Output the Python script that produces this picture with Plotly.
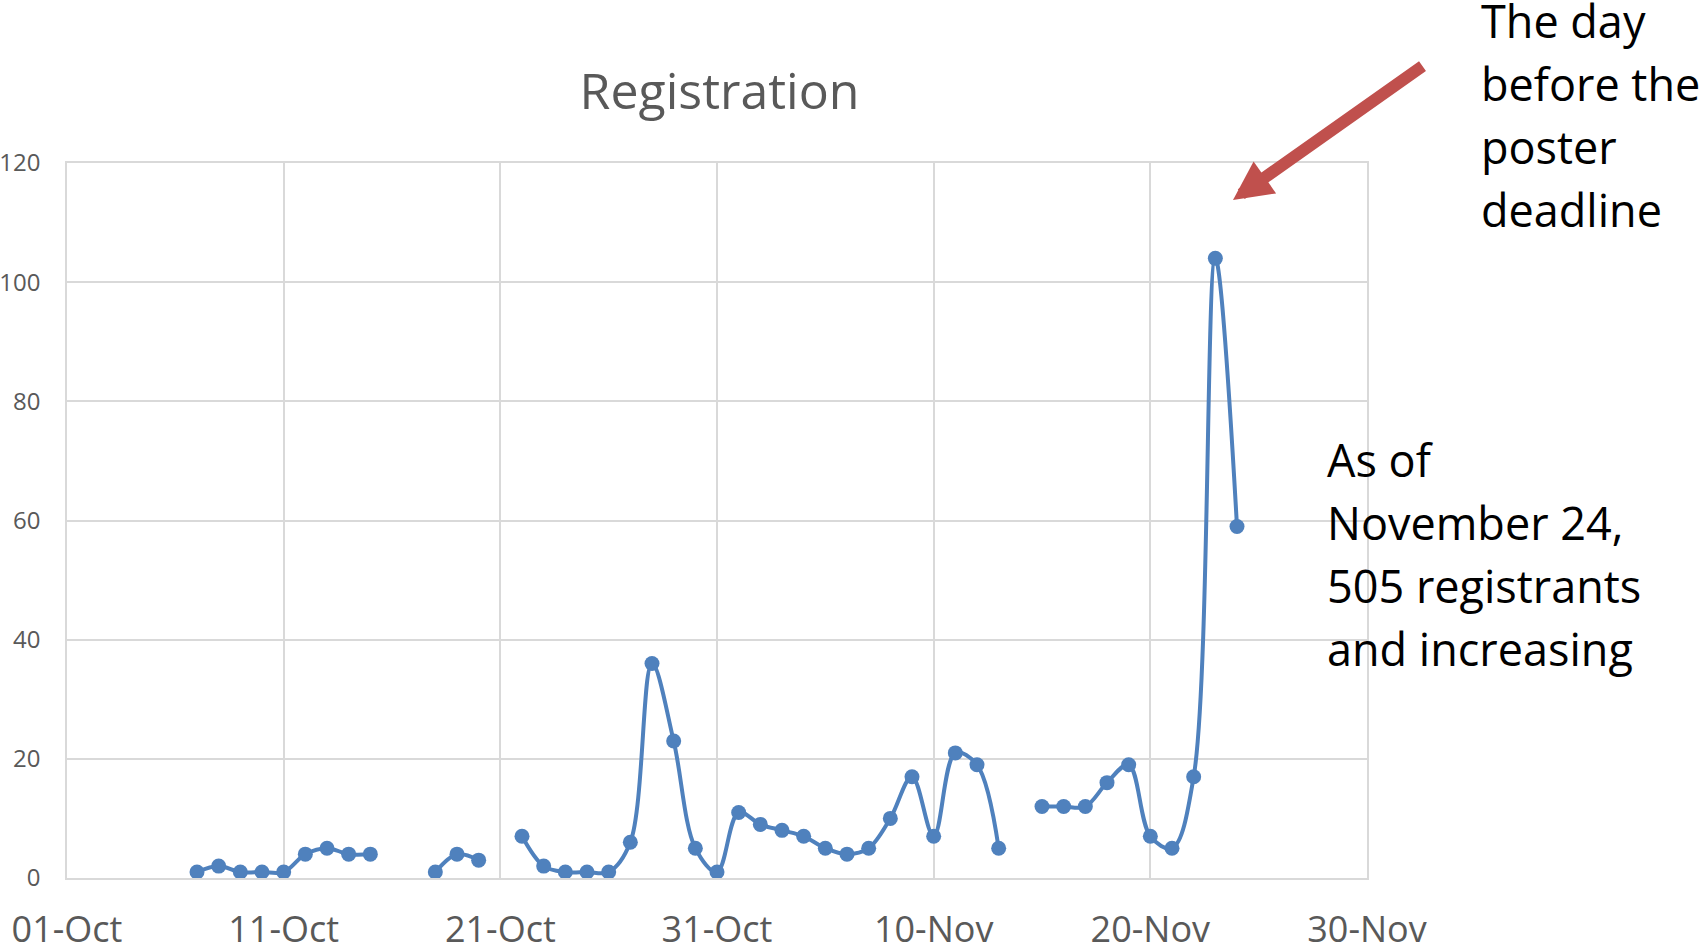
import plotly.graph_objects as go

# ---- data (daily registrations) ----
dates = [
    "2015-10-07", "2015-10-08", "2015-10-09", "2015-10-10", "2015-10-11", "2015-10-12", "2015-10-13",
    "2015-10-14", "2015-10-15", "2015-10-16", "2015-10-17", "2015-10-18", "2015-10-19", "2015-10-20",
    "2015-10-21", "2015-10-22", "2015-10-23", "2015-10-24", "2015-10-25", "2015-10-26", "2015-10-27",
    "2015-10-28", "2015-10-29", "2015-10-30", "2015-10-31", "2015-11-01", "2015-11-02", "2015-11-03",
    "2015-11-04", "2015-11-05", "2015-11-06", "2015-11-07", "2015-11-08", "2015-11-09", "2015-11-10",
    "2015-11-11", "2015-11-12", "2015-11-13", "2015-11-14", "2015-11-15", "2015-11-16", "2015-11-17",
    "2015-11-18", "2015-11-19", "2015-11-20", "2015-11-21", "2015-11-22", "2015-11-23", "2015-11-24",
]
registrations = [
    1, 2, 1, 1, 1, 4, 5,
    4, 4, None, None, 1, 4, 3,
    None, 7, 2, 1, 1, 1, 6,
    36, 23, 5, 1, 11, 9, 8,
    7, 5, 4, 5, 10, 17, 7,
    21, 19, 5, None, 12, 12, 12,
    16, 19, 7, 5, 17, 104, 59,
]
x_range = ["2015-10-01", "2015-11-30"]
y_ticks = [0, 20, 40, 60, 80, 100, 120]

title_text = "Registration"
note_deadline = ["The day", "before the", "poster", "deadline"]
note_total = ["As of", "November 24,", "505 registrants", "and increasing"]

BLUE = "#4F81BD"
GRID = "#d9d9d9"
TXT = "#595959"
FONT = "Open Sans"

fig = go.Figure()
fig.add_trace(go.Scatter(
    x=dates, y=registrations, mode="lines+markers",
    line=dict(color=BLUE, width=4, shape="spline", smoothing=1),
    marker=dict(color=BLUE, size=15),
    connectgaps=False, showlegend=False,
))

fig.update_layout(
    width=1708, height=949,
    margin=dict(l=67, r=341, t=163, b=71, autoexpand=False),
    paper_bgcolor="white", plot_bgcolor="white",
    font=dict(family=FONT, color=TXT),
    title=dict(text=title_text, font=dict(family=FONT, size=50, color=TXT),
               x=719.5 / 1708, xanchor="center", xref="container",
               y=1 - 91 / 949, yanchor="middle", yref="container"),
    showlegend=False,
)
fig.update_xaxes(
    type="date", range=x_range, tick0=x_range[0], dtick=10 * 86400000,
    tickformat="%d-%b", tickfont=dict(size=36, color=TXT, family=FONT),
    showgrid=True, gridcolor=GRID, gridwidth=1.5,
    showline=True, linecolor=GRID, linewidth=1.5, mirror=True,
    ticks="", ticklabelstandoff=19, zeroline=False, automargin=False,
)
fig.update_yaxes(
    range=[0, 120], tickvals=y_ticks, tickfont=dict(size=24, color=TXT, family=FONT),
    showgrid=True, gridcolor=GRID, gridwidth=1.5,
    showline=True, linecolor=GRID, linewidth=1.5, mirror=True,
    ticks="", ticklabelstandoff=20, zeroline=False, automargin=False,
)

PL, PR, PT, PB = 67, 1367, 163, 878
def px(x):
    return (x - PL) / (PR - PL)
def py(y):
    return (PB - y) / (PB - PT)

# red arrow
fig.add_annotation(
    xref="paper", yref="paper", x=px(1233), y=py(200), text="",
    showarrow=True, ax=191, ay=-135, arrowhead=2, arrowsize=0.65,
    arrowwidth=12, arrowcolor="#C0504D", standoff=0,
)
for i, line in enumerate(note_deadline):
    fig.add_annotation(
        xref="paper", yref="paper", x=px(1479), y=py(20 + 63.3 * i), text=line,
        showarrow=False, xanchor="left", yanchor="middle", align="left",
        font=dict(family=FONT, size=45, color="black"),
    )
for i, line in enumerate(note_total):
    fig.add_annotation(
        xref="paper", yref="paper", x=px(1325), y=py(459 + 63.3 * i), text=line,
        showarrow=False, xanchor="left", yanchor="middle", align="left",
        font=dict(family=FONT, size=45, color="black"),
    )

fig.write_html("out.html", config={"displayModeBar": False},
               post_script="document.body.style.margin='0';")
